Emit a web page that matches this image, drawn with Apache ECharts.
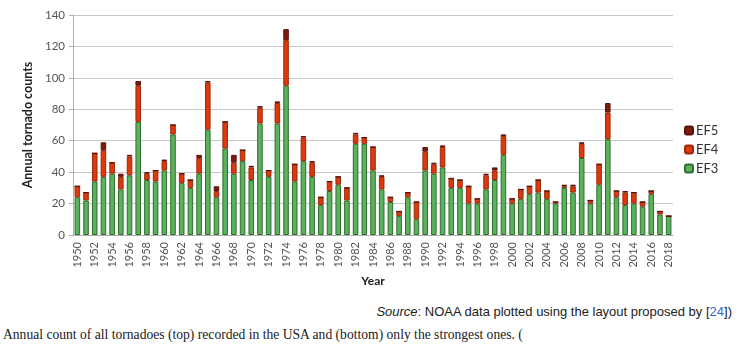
<!DOCTYPE html>
<html>
<head>
<meta charset="utf-8">
<script src="https://cdn.jsdelivr.net/npm/echarts@6/dist/echarts.min.js"></script>
<style>
  body { margin: 0; background: #fff; }
  #wrap { position: relative; width: 740px; height: 350px; overflow: hidden; }
  #chart { position: absolute; left: 0; top: 0; width: 740px; height: 300px; }
  .src { position: absolute; right: 8px; top: 304px; font: 13px "Liberation Sans Narrow", "Liberation Sans", sans-serif; color: #222; }
  .src a { color: #3366cc; }
  .cap { position: absolute; left: 3px; top: 327px; font: 13.6px "Liberation Serif", serif; color: #202122; white-space: nowrap; }
</style>
</head>
<body>
<div id="wrap">
  <div id="chart"></div>
  <div class="src"><i>Source</i>: NOAA data plotted using the layout proposed by [<a>24</a>])</div>
  <div class="cap">Annual count of all tornadoes (top) recorded in the USA and (bottom) only the strongest ones. (</div>
</div>
<script>
// years 1950..2018
const years = [];
for (let y = 1950; y <= 2018; y++) years.push(String(y));

const ef3 = [24, 22, 34, 37, 39, 29, 38, 72, 35, 34, 41, 64, 33, 30, 39, 67, 24, 55, 39, 47,
  35, 71, 37, 71, 95, 34, 47, 37, 19, 28, 32, 22, 58, 58, 41, 29, 21, 12, 24, 10,
  41, 39, 43, 30, 30, 20, 20, 29, 35, 51, 20, 23, 26, 27, 23, 20, 30, 27, 49, 20,
  32, 61, 24, 19, 20, 18, 26, 13, 12];
const ef4 = [7, 5, 18, 17, 7, 8, 12, 23, 4, 7, 6, 6, 6, 5, 10, 30, 4, 17, 7, 7,
  8, 10, 4, 13, 29, 11, 15, 9, 5, 6, 5, 8, 6, 4, 15, 8, 3, 3, 3, 11,
  12, 6, 13, 6, 5, 11, 3, 9, 6, 12, 3, 6, 5, 8, 5, 1, 1, 4, 9, 2,
  13, 17, 4, 8, 7, 3, 2, 2, 0];
const ef5 = [0, 0, 0, 5, 0, 2, 1, 3, 1, 0, 1, 0, 0, 0, 2, 1, 3, 0, 5, 0,
  1, 1, 0, 1, 7, 0, 1, 1, 0, 0, 0, 0, 1, 0, 0, 1, 0, 0, 0, 0,
  3, 1, 1, 0, 0, 0, 0, 1, 2, 1, 0, 0, 0, 0, 0, 0, 1, 1, 1, 0,
  0, 6, 0, 1, 0, 0, 0, 0, 0];

const font = "Lato, 'Open Sans', sans-serif";
const chart = echarts.init(document.getElementById("chart"));

const option = {
  animation: false,
  textStyle: { fontFamily: font },
  grid: { left: 73, right: 67, top: 15, bottom: 65 },
  legend: {
    orient: "vertical",
    left: 679,
    top: 119,
    itemWidth: 8,
    itemHeight: 8,
    itemGap: 6,
    data: ["EF5", "EF4", "EF3"],
    textStyle: { fontSize: 13, color: "#333", fontFamily: font, padding: [0, 0, 0, -2] }
  },
  xAxis: {
    type: "category",
    data: years,
    name: "Year",
    nameLocation: "middle",
    nameGap: 40,
    nameTextStyle: { fontWeight: "bold", fontSize: 12, color: "#222" },
    axisLine: { lineStyle: { color: "#b0b0b0" } },
    axisTick: { interval: 0, length: 4, lineStyle: { color: "#b0b0b0" } },
    axisLabel: { interval: 1, rotate: 90, fontSize: 11, color: "#555", margin: 7 }
  },
  yAxis: {
    type: "value",
    min: 0,
    max: 140,
    interval: 20,
    name: "Annual tornado counts",
    nameLocation: "middle",
    nameGap: 36,
    nameTextStyle: { fontWeight: "bold", fontSize: 12.5, color: "#222" },
    axisLine: { show: true, lineStyle: { color: "#b0b0b0" } },
    axisTick: { show: true, length: 4, lineStyle: { color: "#b0b0b0" } },
    axisLabel: { fontSize: 11.5, color: "#555", margin: 8 },
    splitLine: { lineStyle: { color: "#c8c8c8" } }
  },
  series: [
    {
      name: "EF3", type: "bar", stack: "t", data: ef3, barWidth: "64%",
      itemStyle: { color: "#5cb25c", borderColor: "#2f6e2f", borderWidth: 1 }
    },
    {
      name: "EF4", type: "bar", stack: "t", data: ef4,
      itemStyle: { color: "#dc3a0c", borderColor: "#9a2a0c", borderWidth: 1 }
    },
    {
      name: "EF5", type: "bar", stack: "t", data: ef5,
      itemStyle: { color: "#7e1c0c", borderColor: "#5a120a", borderWidth: 1 }
    }
  ]
};

chart.setOption(option);
</script>
</body>
</html>
